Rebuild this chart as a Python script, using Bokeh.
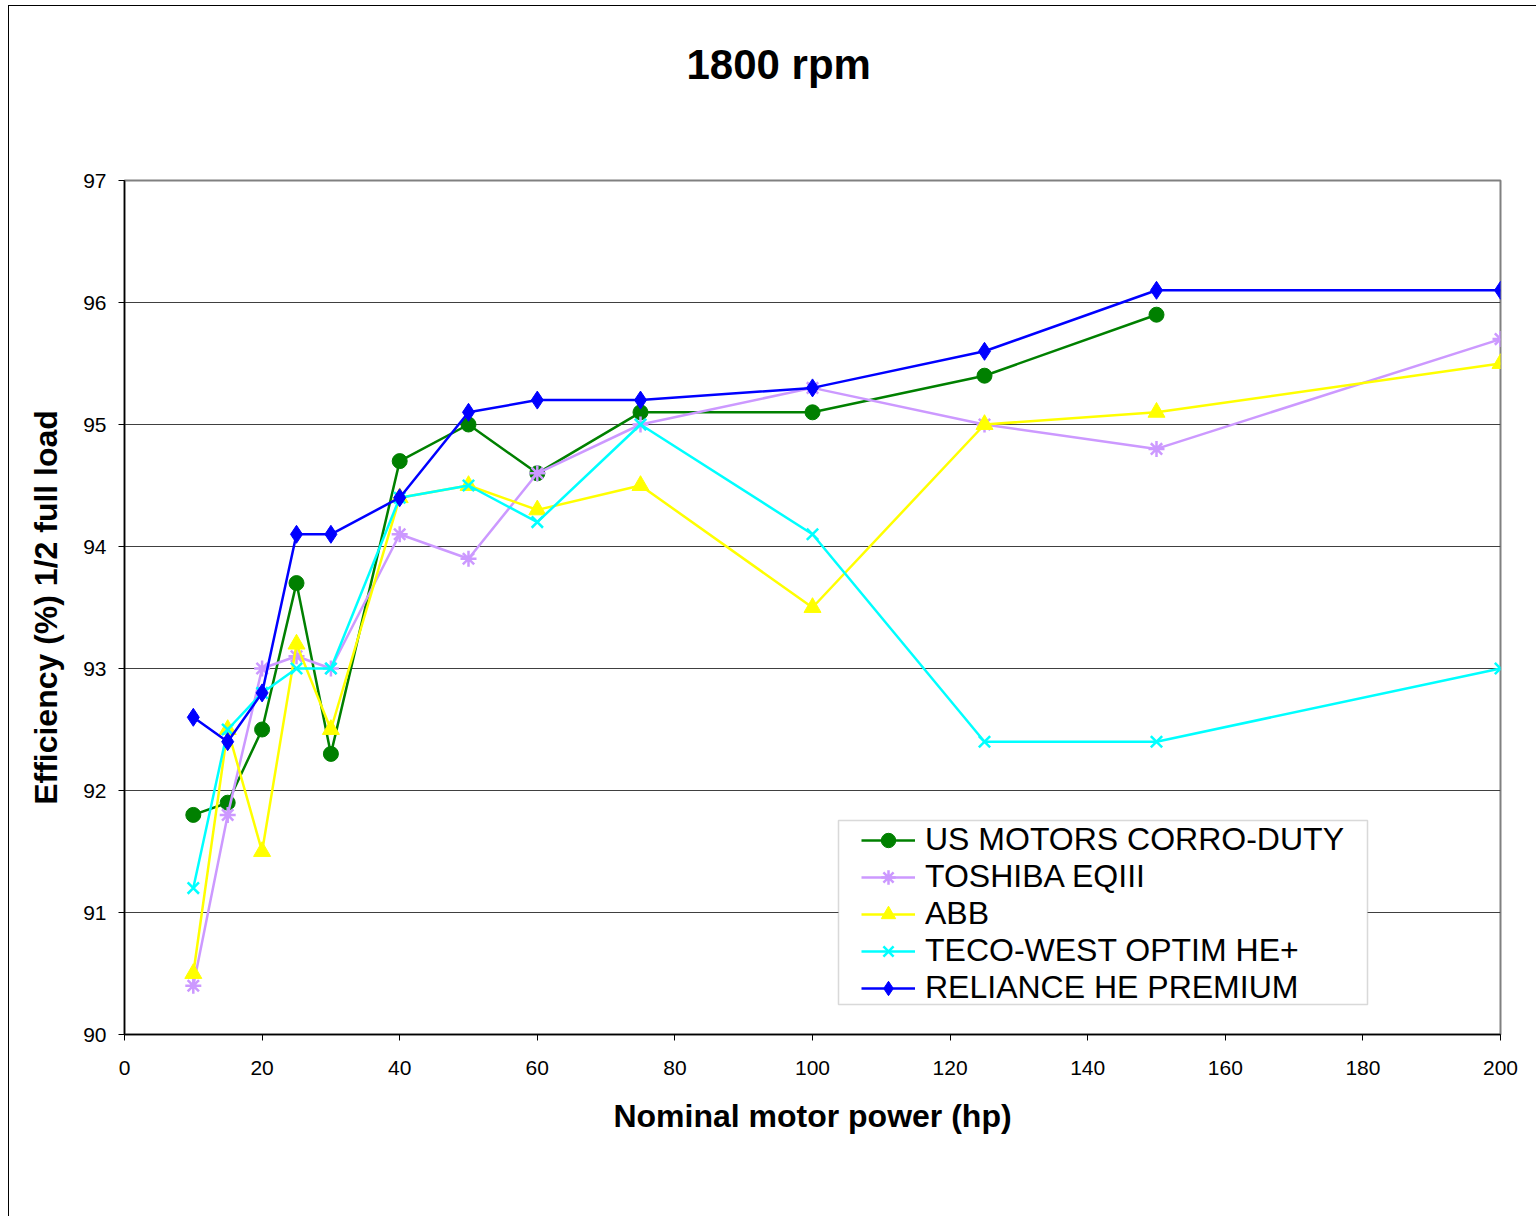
from bokeh.plotting import figure
from bokeh.models import Range1d, FixedTicker, Legend, LegendItem, Title, BoxAnnotation
from bokeh.embed import file_html
from bokeh.resources import INLINE

hp_all = [10, 15, 20, 25, 30, 40, 50, 60, 75, 100, 125, 150, 200]
hp_us = [10, 15, 20, 25, 30, 40, 50, 60, 75, 100, 125, 150]

us_motors = [91.8, 91.9, 92.5, 93.7, 92.3, 94.7, 95.0, 94.6, 95.1, 95.1, 95.4, 95.9]
toshiba = [90.4, 91.8, 93.0, 93.1, 93.0, 94.1, 93.9, 94.6, 95.0, 95.3, 95.0, 94.8, 95.7]
abb = [90.5, 92.5, 91.5, 93.2, 92.5, 94.4, 94.5, 94.3, 94.5, 93.5, 95.0, 95.1, 95.5]
teco = [91.2, 92.5, 92.8, 93.0, 93.0, 94.4, 94.5, 94.2, 95.0, 94.1, 92.4, 92.4, 93.0]
reliance = [92.6, 92.4, 92.8, 94.1, 94.1, 94.4, 95.1, 95.2, 95.2, 95.3, 95.6, 96.1, 96.1]

names = ["US MOTORS CORRO-DUTY", "TOSHIBA EQIII", "ABB", "TECO-WEST OPTIM HE+", "RELIANCE HE PREMIUM"]
x_ticks = [0, 20, 40, 60, 80, 100, 120, 140, 160, 180, 200]
y_ticks = [90, 91, 92, 93, 94, 95, 96, 97]

FONT = "Liberation Sans"

p = figure(width=1528, height=1211, output_backend="svg", toolbar_location=None,
           x_range=Range1d(0, 200), y_range=Range1d(90, 97),
           min_border_left=115, min_border_right=37, min_border_top=174, min_border_bottom=183)
p.margin = (5, 0, 0, 8)
p.styles = {"border-left": "1px solid black", "border-top": "1px solid black"}

p.title = None
spacer = Title(text=" ", text_font_size="1px", standoff=90, text_color="white")
p.add_layout(spacer, "above")
t = Title(text="1800 rpm", align="left", offset=562, vertical_align="bottom", text_font=FONT,
          text_font_size="42px", text_font_style="bold", text_color="black", standoff=0)
p.add_layout(t, "above")

p.outline_line_color = "#808080"
p.outline_line_width = 2
p.background_fill_color = "white"
p.border_fill_color = "white"

p.xgrid.visible = False
p.ygrid.ticker = FixedTicker(ticks=y_ticks)
p.ygrid.grid_line_color = "#404040"
p.ygrid.grid_line_width = 1

for ax, ticks in ((p.xaxis, x_ticks), (p.yaxis, y_ticks)):
    ax.ticker = FixedTicker(ticks=ticks)
    ax.axis_line_color = "black"
    ax.axis_line_width = 1.5
    ax.major_tick_line_color = "black"
    ax.major_tick_in = 0
    ax.major_tick_out = 6
    ax.minor_tick_line_color = None
    ax.major_label_text_font = FONT
    ax.major_label_text_font_size = "21px"
    ax.major_label_text_color = "black"
    ax.axis_label_text_font = FONT
    ax.axis_label_text_font_size = "32px"
    ax.axis_label_text_font_style = "bold"
    ax.axis_label_text_color = "black"

p.xaxis.axis_label = "Nominal motor power (hp)"
p.yaxis.axis_label = "Efficiency (%) 1/2 full load"
p.xaxis.major_label_standoff = 20
p.yaxis.major_label_standoff = 12
p.xaxis.axis_label_standoff = 20
p.yaxis.axis_label_standoff = 16

LW = 2.5
items = []
r1 = p.line(hp_us, us_motors, line_color="#008000", line_width=LW)
m1 = p.scatter(hp_us, us_motors, marker="circle", size=15, fill_color="#008000", line_color="#008000")
items.append(LegendItem(label=names[0], renderers=[r1, m1]))

r2 = p.line(hp_all, toshiba, line_color="#CC99FF", line_width=LW)
m2 = p.scatter(hp_all, toshiba, marker="asterisk", size=16, line_color="#CC99FF", line_width=2.5)
items.append(LegendItem(label=names[1], renderers=[r2, m2]))

r3 = p.line(hp_all, abb, line_color="#FFFF00", line_width=LW)
m3 = p.scatter(hp_all, abb, marker="triangle", size=17, fill_color="#FFFF00", line_color="#FFFF00")
items.append(LegendItem(label=names[2], renderers=[r3, m3]))

r4 = p.line(hp_all, teco, line_color="#00FFFF", line_width=LW)
m4 = p.scatter(hp_all, teco, marker="x", size=16, line_color="#00FFFF", line_width=2.5)
items.append(LegendItem(label=names[3], renderers=[r4, m4]))

r5 = p.line(hp_all, reliance, line_color="#0000FF", line_width=LW)
m5 = p.scatter(hp_all, reliance, marker="diamond", size=18, fill_color="#0000FF", line_color="#0000FF")
items.append(LegendItem(label=names[4], renderers=[r5, m5]))

box = BoxAnnotation(left=714, right=1243, bottom=30, top=214,
                    left_units="screen", right_units="screen", bottom_units="screen", top_units="screen",
                    fill_color="white", fill_alpha=1.0, line_color="#808080", line_width=1.5)
p.add_layout(box)

legend = Legend(items=items, location=(737, 28), margin=0, padding=1, spacing=0,
                label_text_font=FONT, label_text_font_size="32px", label_text_color="black",
                label_height=36, glyph_height=36, glyph_width=54, label_standoff=10,
                border_line_color=None, background_fill_alpha=0.0)
p.add_layout(legend, "center")

open("out.html", "w").write(file_html(p, INLINE))
